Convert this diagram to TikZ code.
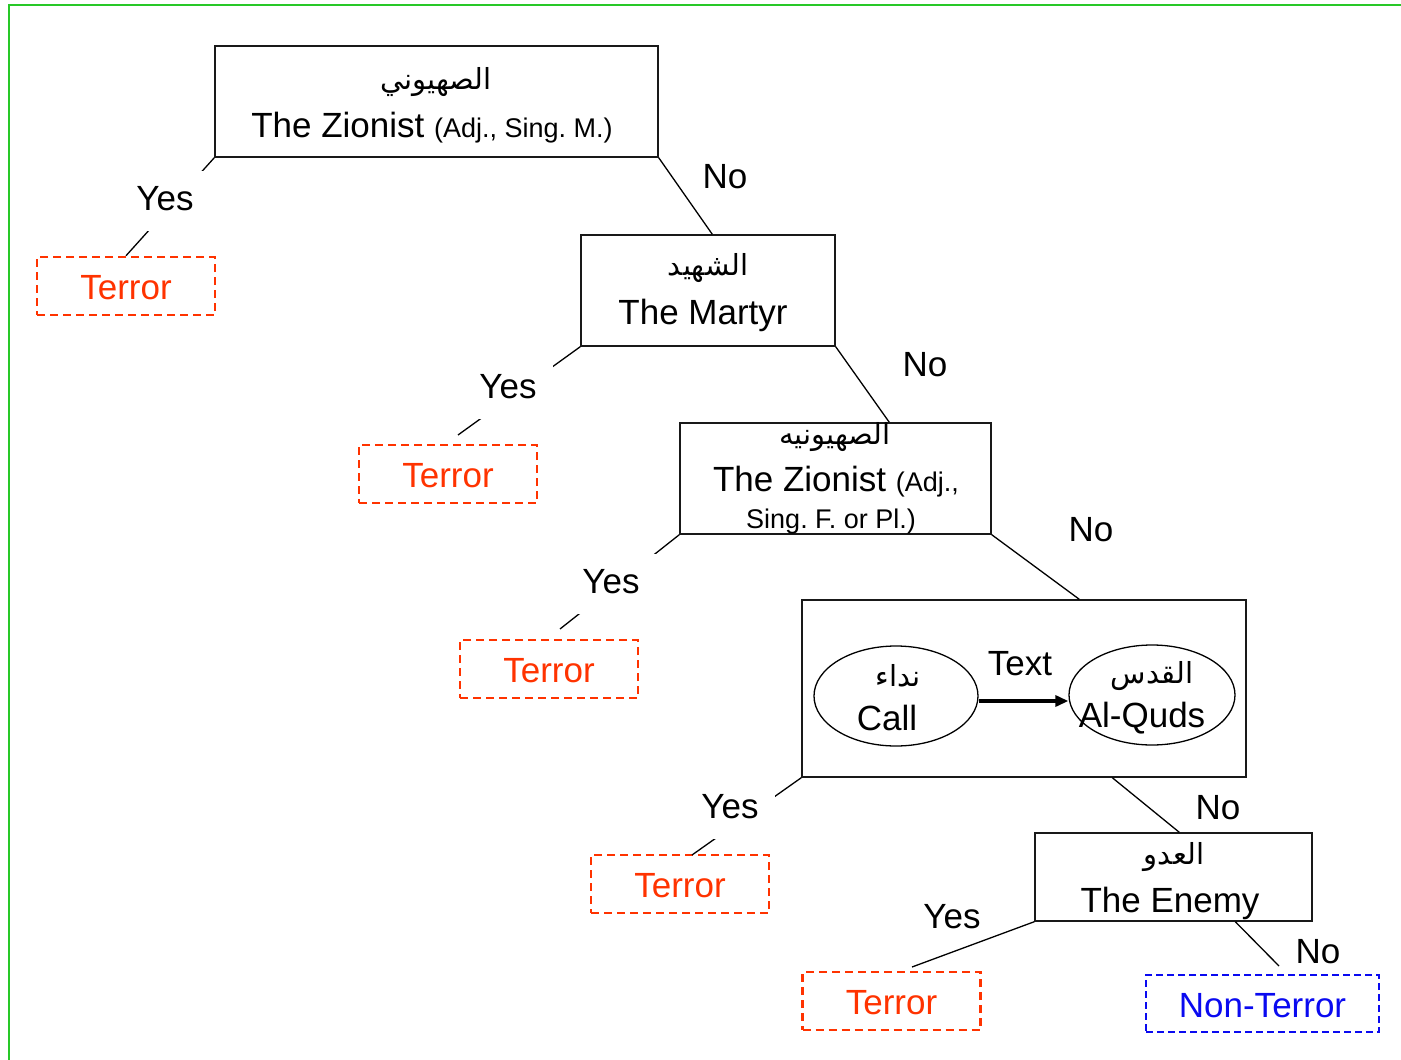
\documentclass[tikz,border=0pt]{standalone}
\usepackage{fontspec}
\setmainfont{Liberation Sans}
\newfontfamily\arabicfont[Script=Arabic]{DejaVu Sans}
\TeXXeTstate=1
\usetikzlibrary{shapes.geometric,arrows.meta,calc}
\definecolor{terrorred}{RGB}{255,51,0}
\definecolor{safeblue}{RGB}{10,10,240}
\definecolor{framegreen}{RGB}{40,200,40}
\newcommand{\smallfs}{\fontsize{27}{30}\selectfont}

\begin{document}
\frenchspacing
\begin{tikzpicture}[x=1pt,y=-1pt,
  en/.style={font=\fontsize{35}{40}\selectfont, inner sep=0pt, text height=25pt, text depth=7pt, yshift=-3pt},
  ensmall/.style={font=\smallfs, inner sep=0pt, text height=20pt, text depth=6pt, yshift=-2pt},
  ar/.style={font=\arabicfont\fontsize{29}{32}\selectfont, inner sep=0pt},
  wordbox/.style={draw=black!90, line width=1.4pt, rectangle, inner sep=0pt},
  verdict/.style={draw, dashed, dash pattern=on 8pt off 5pt, line width=2.5pt,
    rectangle, inner sep=0pt, font=\fontsize{35}{40}\selectfont,
    text height=32pt, text depth=5pt},
  terrorbox/.style={verdict, draw=terrorred, text=terrorred,
    minimum width=178pt, minimum height=58pt},
  safebox/.style={verdict, draw=safeblue, text=safeblue, dash pattern=on 7pt off 4pt},
  link/.style={draw=black, line width=1.3pt},
  yeslbl/.style={en, fill=white, inner xsep=16pt, inner ysep=14pt},
  nolbl/.style={en},
  oval/.style={ellipse, draw=black, line width=1.3pt, inner sep=0pt}
]
\useasboundingbox (0,0) rectangle (1401,1060);

% outer frame
\draw[framegreen, line width=2.2pt] (1401,5) -- (9,5) -- (9,1060);

% decision boxes
\node[wordbox, minimum width=443pt, minimum height=111pt] (z1) at (436.5,101.5) {};
\node[ar] (z1ar) at (436,82) {\beginR الصهيوني\endR};
\node[en] (z1en) at (432,125) {The Zionist {\smallfs(Adj., Sing. M.)}};

\node[wordbox, minimum width=254pt, minimum height=111pt] (z2) at (708,290.5) {};
\node[ar] (z2ar) at (708,268) {\beginR الشهيد\endR};
\node[en] (z2en) at (703,312) {The Martyr};

\node[wordbox, minimum width=311pt, minimum height=111pt] (z3) at (835.5,478.5) {};
\node[ar] (z3ar) at (835,437) {\beginR الصهيونيه\endR};
\node[en] (z3en) at (836,479) {The Zionist {\smallfs(Adj.,}};
\node[ensmall] (z3sm) at (831,519) {Sing. F. or Pl.)};

\node[wordbox, minimum width=444pt, minimum height=177pt] (z4) at (1024,688.5) {};
\node[oval, minimum width=164pt, minimum height=100pt] (call) at (896,696) {};
\node[ar] (callar) at (898,676) {\beginR نداء\endR};
\node[en] (callen) at (887,718) {Call};
\node[oval, minimum width=166pt, minimum height=100pt] (quds) at (1152,695) {};
\node[ar] (qudsar) at (1152,676) {\beginR القدس\endR};
\node[en] (qudsen) at (1142,715) {Al-Quds};
\node[en] (textlbl) at (1020,663) {Text};
\draw[line width=3.8pt, -{Triangle[length=13pt,width=11pt]}]
  ($(call.east)+(0,5)$) -- ($(quds.west)+(0,6)$);

\node[wordbox, minimum width=277pt, minimum height=88pt] (z5) at (1173.5,877) {};
\node[ar] (z5ar) at (1174,857) {\beginR العدو\endR};
\node[en] (z5en) at (1170,900) {The Enemy};

% outcome boxes
\node[terrorbox] (t1) at (126,286) {Terror};
\node[terrorbox] (t2) at (448,474) {Terror};
\node[terrorbox] (t3) at (549,669) {Terror};
\node[terrorbox] (t4) at (680,884) {Terror};
\node[terrorbox] (t5) at (891.5,1001) {Terror};
\node[safebox, minimum width=233pt, minimum height=57pt] (nt) at (1262.5,1003.5) {Non-Terror};

% free ends of the branches
\coordinate (y2end) at (458,435);
\coordinate (y3end) at (560,629);
\coordinate (y4end) at (692,855);
\coordinate (y5end) at (912,967);
\coordinate (n5end) at (1279,966);

% branches
\draw[link] (z1.south west) -- (t1.north);
\draw[link] (z1.south east) -- ($(z2.north west)+(132,0)$);
\draw[link] (z2.south west) -- (y2end);
\draw[link] (z2.south east) -- ($(z3.north west)+(210,0)$);
\draw[link] (z3.south west) -- (y3end);
\draw[link] (z3.south east) -- ($(z4.north west)+(278,0)$);
\draw[link] (z4.south west) -- (y4end);
\draw[link] ($(z4.south west)+(311,0)$) -- ($(z5.north west)+(145,0)$);
\draw[link] (z5.south west) -- (y5end);
\draw[link] ($(z5.south west)+(201,0)$) -- (n5end);

% branch labels
\node[yeslbl] (yes1) at (165,198) {Yes};
\node[yeslbl] (yes2) at (508,386) {Yes};
\node[yeslbl] (yes3) at (611,581) {Yes};
\node[yeslbl] (yes4) at (730,806) {Yes};
\node[en] (yes5) at (952,916) {Yes};
\node[nolbl] (no1) at (725,176) {No};
\node[nolbl] (no2) at (925,364) {No};
\node[nolbl] (no3) at (1091,529) {No};
\node[nolbl] (no4) at (1218,807) {No};
\node[nolbl] (no5) at (1318,951) {No};
\end{tikzpicture}
\end{document}
